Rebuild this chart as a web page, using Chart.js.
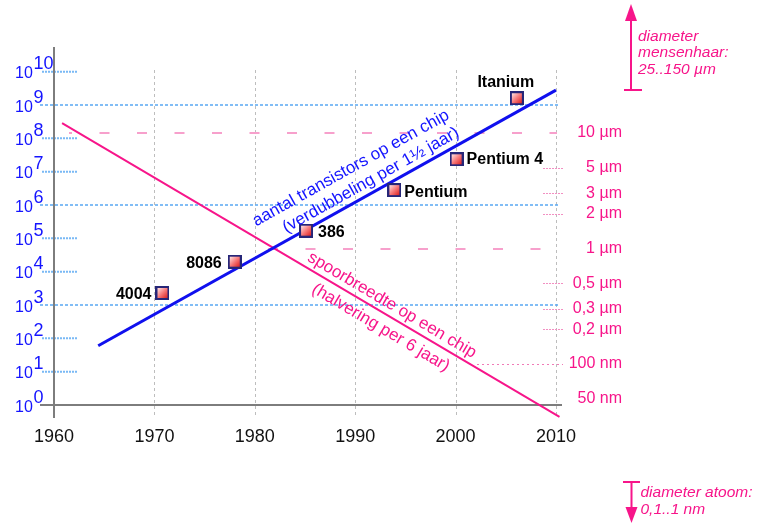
<!DOCTYPE html>
<html>
<head>
<meta charset="utf-8">
<script src="https://cdn.jsdelivr.net/npm/chart.js@4.4.1/dist/chart.umd.min.js"></script>
<style>
  html, body { margin: 0; padding: 0; background: #fff; }
  #wrap { width: 757px; height: 524px; }
</style>
</head>
<body>
<div id="wrap"><canvas id="grafiek" width="757" height="524"></canvas></div>
<script>
// assen
const jaren = [1960, 1970, 1980, 1990, 2000, 2010];
const decaden = [0, 1, 2, 3, 4, 5, 6, 7, 8, 9, 10];
const hoofdDecaden = [3, 6, 9];

// processors
const chips = ["4004", "8086", "386", "Pentium", "Pentium 4", "Itanium"];
const chipJaren = [1970.8, 1978.0, 1985.1, 1993.9, 2000.1, 2006.1];
const chipTransistors = [2300, 20000, 170000, 2.8e6, 2.35e7, 1.6e9];

// trendlijnen
const trendJaren = [1964.4, 2010.0];
const transistorTrend = [60, 2.8e9];
const spoorJaren = [1960.8, 2010.35];
const spoorTrend = [12.2, 0.0348]; // in µm

// rechter as (spoorbreedte, µm)
const breedteWaarden = [10, 5, 3, 2, 1, 0.5, 0.3, 0.2, 0.1, 0.05];
const breedteLabels = ["10 µm", "5 µm", "3 µm", "2 µm", "1 µm", "0,5 µm", "0,3 µm", "0,2 µm", "100 nm", "50 nm"];
const breedteStijl = ["lang", "kort", "kort", "kort", "lang", "kort", "kort", "kort", "middel", "geen"];

// plaats van de chiplabels t.o.v. het blokje: [dx, dy, uitlijning]
const labelPlek = [[-11, 1.5, "right"], [-13, 1.6, "right"], [12, 2, "left"], [10, 2.7, "left"], [10, 0.7, "left"], [-11, -15.6, "center"]];

const FONT = '"Liberation Sans", Arial, sans-serif';
const BLAUW = "#1414ff";
const ROZE = "#f7158a";

function maakBlokje() {
  const c = document.createElement("canvas");
  c.width = 14;
  c.height = 14;
  const g = c.getContext("2d");
  const grad = g.createLinearGradient(2, 2, 12, 12);
  grad.addColorStop(0, "#ffe4e4");
  grad.addColorStop(0.5, "#f77a7a");
  grad.addColorStop(1, "#dc2020");
  g.fillStyle = grad;
  g.fillRect(1, 1, 12, 12);
  g.strokeStyle = "#262678";
  g.lineWidth = 2;
  g.strokeRect(1, 1, 12, 12);
  return c;
}

function lijn(ctx, x1, y1, x2, y2) {
  ctx.beginPath();
  ctx.moveTo(x1, y1);
  ctx.lineTo(x2, y2);
  ctx.stroke();
}

const achtergrond = {
  id: "achtergrond",
  beforeDatasetsDraw(chart) {
    const { ctx, chartArea, scales } = chart;
    const { x, y, y2 } = scales;
    ctx.save();

    // verticale rasterlijnen
    ctx.strokeStyle = "#bdbdbd";
    ctx.lineWidth = 1;
    ctx.setLineDash([3, 3]);
    jaren.slice(1).forEach((j) => {
      const px = Math.round(x.getPixelForValue(j)) + 0.5;
      lijn(ctx, px, 70, px, chartArea.bottom);
    });

    // lichtblauwe lijnen bij 10^3, 10^6, 10^9
    ctx.strokeStyle = "#5aa8f2";
    ctx.lineWidth = 1.5;
    ctx.setLineDash([3, 2]);
    hoofdDecaden.forEach((d) => {
      const py = y.getPixelForValue(10 ** d);
      lijn(ctx, chartArea.left, py, 560, py);
    });

    // korte streepjes bij de overige decaden
    ctx.strokeStyle = "#7ab9f5";
    ctx.lineWidth = 2;
    ctx.setLineDash([2, 1]);
    decaden.forEach((d) => {
      if (hoofdDecaden.includes(d)) return;
      const py = y.getPixelForValue(10 ** d);
      lijn(ctx, 42, py, 78, py);
    });

    // spoorbreedte-streepjes rechts
    breedteWaarden.forEach((w, i) => {
      const py = Math.round(y2.getPixelForValue(w)) + 0.5;
      const stijl = breedteStijl[i];
      if (stijl === "lang") {
        ctx.strokeStyle = "#f7a0cc";
        ctx.lineWidth = 2;
        ctx.setLineDash([10, 27.5]);
        ctx.lineDashOffset = w === 10 ? 7 : 0;
        lijn(ctx, w === 10 ? 69 : 268, py - 0.5, 557, py - 0.5);
        ctx.lineDashOffset = 0;
      } else if (stijl === "middel") {
        ctx.strokeStyle = "#f07ab6";
        ctx.lineWidth = 1;
        ctx.setLineDash([2, 3]);
        lijn(ctx, 477, py, 563, py);
      } else if (stijl === "kort") {
        ctx.strokeStyle = "#f290c2";
        ctx.lineWidth = 1;
        ctx.setLineDash([2, 1]);
        lijn(ctx, 543, py, 563, py);
      }
    });

    // assen
    ctx.setLineDash([]);
    ctx.strokeStyle = "#7d7d7d";
    ctx.lineWidth = 2;
    const x0 = Math.round(x.getPixelForValue(1960));
    lijn(ctx, x0, chartArea.top, x0, chartArea.bottom);
    const y0 = Math.round(y.getPixelForValue(1));
    lijn(ctx, chartArea.left, y0, chartArea.right, y0);

    ctx.restore();
  },
};

function tekstLangs(ctx, meta, f, loodrecht, tekst, kleur) {
  const p0 = meta.data[0];
  const p1 = meta.data[1];
  const dx = p1.x - p0.x;
  const dy = p1.y - p0.y;
  const len = Math.hypot(dx, dy);
  const c = dx / len;
  const s = dy / len;
  const px = p0.x + f * dx + loodrecht * s;
  const py = p0.y + f * dy - loodrecht * c;
  ctx.save();
  ctx.translate(px, py);
  ctx.rotate(Math.atan2(dy, dx));
  ctx.fillStyle = kleur;
  ctx.font = "17px " + FONT;
  ctx.textAlign = "center";
  ctx.textBaseline = "middle";
  ctx.fillText(tekst, 0, 0);
  ctx.restore();
}

const teksten = {
  id: "teksten",
  afterDatasetsDraw(chart) {
    const { ctx, scales } = chart;
    const { x, y, y2 } = scales;
    ctx.save();

    // y-labels 10^n
    ctx.fillStyle = BLAUW;
    ctx.textAlign = "left";
    ctx.textBaseline = "alphabetic";
    decaden.forEach((d) => {
      const py = y.getPixelForValue(10 ** d);
      ctx.font = "16px " + FONT;
      ctx.fillText("10", 15, py + 6.5);
      ctx.font = "18px " + FONT;
      ctx.fillText(String(d), 33.5, py - 2.3);
    });

    // x-labels
    ctx.fillStyle = "#111";
    ctx.font = "18px " + FONT;
    ctx.textAlign = "center";
    ctx.textBaseline = "middle";
    jaren.forEach((j) => ctx.fillText(String(j), x.getPixelForValue(j), 437));

    // rechter labels
    ctx.fillStyle = ROZE;
    ctx.font = "16px " + FONT;
    ctx.textAlign = "right";
    breedteWaarden.forEach((w, i) => {
      ctx.fillText(breedteLabels[i], 622, y2.getPixelForValue(w));
    });

    // chiplabels
    const meta = chart.getDatasetMeta(0);
    ctx.fillStyle = "#000";
    ctx.font = "bold 16px " + FONT;
    chips.forEach((naam, i) => {
      const pt = meta.data[i];
      const [ox, oy, al] = labelPlek[i];
      ctx.textAlign = al;
      ctx.fillText(naam, pt.x + ox, pt.y + oy);
    });

    // teksten langs de lijnen
    const metaT = chart.getDatasetMeta(1);
    tekstLangs(ctx, metaT, 0.586, 31.8, "aantal transistors op een chip", BLAUW);
    tekstLangs(ctx, metaT, 0.608, 11.5, "(verdubbeling per 1½ jaar)", BLAUW);
    const metaS = chart.getDatasetMeta(2);
    tekstLangs(ctx, metaS, 0.652, 11, "spoorbreedte op een chip", ROZE);
    tekstLangs(ctx, metaS, 0.655, -14.2, "(halvering per 6 jaar)", ROZE);

    // pijlen rechts
    ctx.strokeStyle = ROZE;
    ctx.fillStyle = ROZE;
    ctx.lineWidth = 2;
    lijn(ctx, 631, 90, 631, 18);
    lijn(ctx, 624, 90, 642, 90);
    ctx.beginPath();
    ctx.moveTo(631, 4);
    ctx.lineTo(625, 21);
    ctx.lineTo(637, 21);
    ctx.closePath();
    ctx.fill();

    lijn(ctx, 631.5, 482, 631.5, 510);
    lijn(ctx, 623, 482, 640, 482);
    ctx.beginPath();
    ctx.moveTo(631.5, 523);
    ctx.lineTo(625.5, 507);
    ctx.lineTo(637.5, 507);
    ctx.closePath();
    ctx.fill();

    ctx.font = "italic 15.5px " + FONT;
    ctx.textAlign = "left";
    ctx.textBaseline = "middle";
    ctx.fillText("diameter", 638, 37);
    ctx.fillText("mensenhaar:", 638, 53);
    ctx.fillText("25..150 µm", 638, 70);
    ctx.fillText("diameter atoom:", 640.5, 493);
    ctx.fillText("0,1..1 nm", 640.5, 510);

    ctx.restore();
  },
};

document.addEventListener("DOMContentLoaded", () => {
  const ctx = document.getElementById("grafiek").getContext("2d");
  const blokje = maakBlokje();

  new Chart(ctx, {
    type: "line",
    data: {
      datasets: [
        {
          label: "processors",
          data: chipJaren.map((j, i) => ({ x: j, y: chipTransistors[i] })),
          yAxisID: "y",
          showLine: false,
          pointStyle: blokje,
          pointRadius: 7,
        },
        {
          label: "transistors",
          data: trendJaren.map((j, i) => ({ x: j, y: transistorTrend[i] })),
          yAxisID: "y",
          borderColor: "#1010ee",
          borderWidth: 3,
          pointRadius: 0,
          fill: false,
        },
        {
          label: "spoorbreedte",
          data: spoorJaren.map((j, i) => ({ x: j, y: spoorTrend[i] })),
          yAxisID: "y2",
          borderColor: ROZE,
          borderWidth: 2,
          pointRadius: 0,
          fill: false,
        },
      ],
    },
    options: {
      responsive: false,
      devicePixelRatio: 1,
      animation: false,
      events: [],
      layout: { padding: { left: 40, top: 47, right: 195, bottom: 106 } },
      plugins: { legend: { display: false }, tooltip: { enabled: false } },
      scales: {
        x: { type: "linear", display: false, min: 1958.6, max: 2010.6 },
        y: { type: "logarithmic", display: false, min: Math.pow(10, -0.39), max: Math.pow(10, 10.74) },
        y2: { type: "logarithmic", display: false, min: 0.03407, max: 55.6 },
      },
    },
    plugins: [achtergrond, teksten],
  });
});
</script>
</body>
</html>
